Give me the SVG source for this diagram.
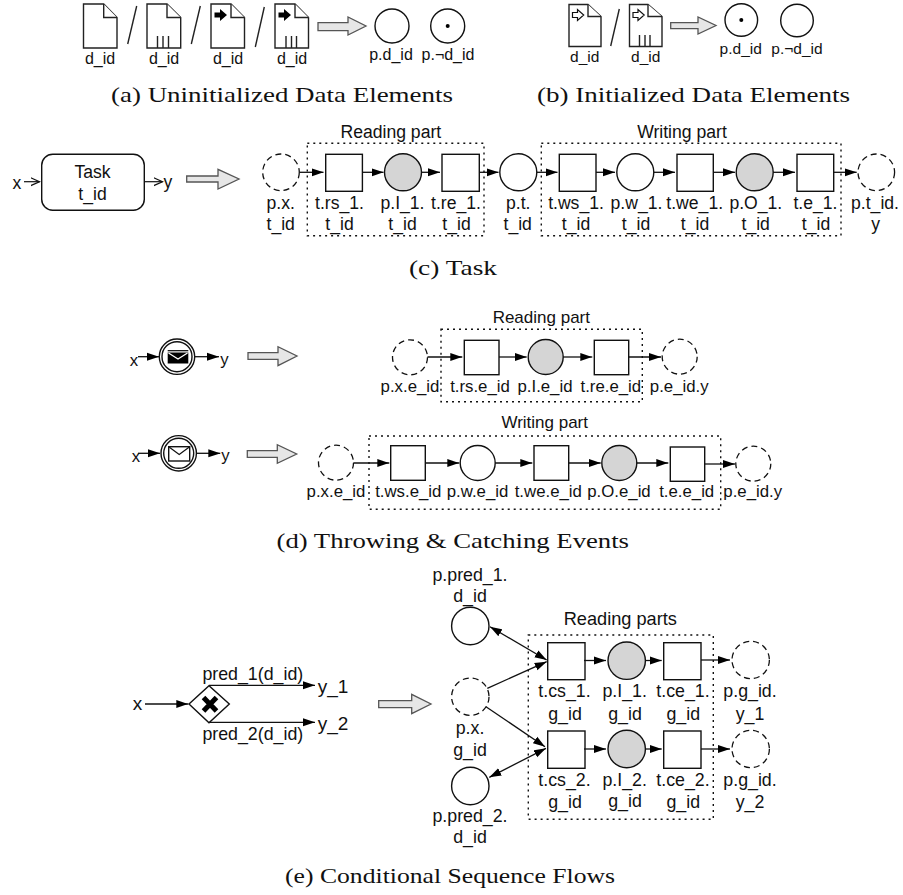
<svg xmlns="http://www.w3.org/2000/svg" width="903" height="895" viewBox="0 0 903 895">
<style>
text{font-family:"Liberation Sans",Arial,sans-serif;fill:#111;text-anchor:middle}
.a{font-size:16px}.b{font-size:15.5px}.c{font-size:17.6px}.d{font-size:16.8px}.e{font-size:17.8px}.big{font-size:19px}
.cap{font-family:"Liberation Serif","Times New Roman",serif;font-size:22px;text-anchor:start}
.doc{fill:#fff;stroke:#222;stroke-width:1.4}
.bar{stroke:#222;stroke-width:1.4;fill:none}
.block{fill:#e6e6e6;stroke:#555;stroke-width:1.3}
.ring{fill:#fff;stroke:#111;stroke-width:1.4}
.gray{fill:#d5d5d5;stroke:#111;stroke-width:1.4}
.dash{fill:#fff;stroke:#111;stroke-width:1.3;stroke-dasharray:6 4}
.sq{fill:#fff;stroke:#111;stroke-width:1.4}
.frame{fill:none;stroke:#111;stroke-width:1.4;stroke-dasharray:2 4}
.f{fill:none;stroke:#111;stroke-width:1.3;marker-end:url(#h)}
.o{fill:none;stroke:#111;stroke-width:1.2;marker-end:url(#op)}
.both{fill:none;stroke:#111;stroke-width:1.3;marker-end:url(#h);marker-start:url(#h)}
</style>
<defs>
<marker id="h" markerUnits="userSpaceOnUse" markerWidth="12" markerHeight="9" refX="12" refY="4.5" orient="auto-start-reverse"><path d="M0 0.5L12 4.5L0 8.5Z" fill="#000"/></marker>
<marker id="op" markerUnits="userSpaceOnUse" markerWidth="10" markerHeight="10" refX="9" refY="5" orient="auto"><path d="M0 1L9 5L0 9" fill="none" stroke="#111" stroke-width="1.2"/></marker>
</defs>

<g id="data-uninit">
<g id="doc1"><path class="doc" d="M83.5 4H103.7L117 17.5V48H83.5Z"/><path class="doc" d="M103.7 4V17.5H117"/><text class="a" x="100" y="64">d_id</text></g>
<path class="bar" d="M127.7 44L136.7 6"/>
<g id="doc2"><path class="doc" d="M147 4H167L180.7 17.5V48H147Z"/><path class="doc" d="M167 4V17.5H180.7"/><path class="bar" d="M157.5 36V48M163 36V48M168.5 36V48"/><text class="a" x="164" y="64">d_id</text></g>
<path class="bar" d="M191.3 44L200.3 6"/>
<g id="doc3"><path class="doc" d="M211 4H231L244.5 17.5V48H211Z"/><path class="doc" d="M231 4V17.5H244.5"/><path d="M214.5 12.5H220V9L227 15L220 21V17.5H214.5Z" fill="#000"/><text class="a" x="228" y="64">d_id</text></g>
<path class="bar" d="M255.3 47L264.3 7"/>
<g id="doc4"><path class="doc" d="M275 4H295L308.5 17.5V48H275Z"/><path class="doc" d="M295 4V17.5H308.5"/><path d="M278.5 12.5H284V9L291 15L284 21V17.5H278.5Z" fill="#000"/><path class="bar" d="M286 36V48M291.5 36V48M296.5 36V48"/><text class="a" x="292" y="64">d_id</text></g>
<path class="block" d="M318 22.7H348V17L366 26L348 35V30.7H318Z"/>
<g id="p-d-a"><circle class="ring" cx="392" cy="26" r="17"/><text class="a" x="391" y="60">p.d_id</text></g>
<g id="p-nd-a"><circle class="ring" cx="447.7" cy="26" r="17"/><circle cx="447.7" cy="26" r="2" fill="#000"/><text class="a" x="448" y="60">p.¬d_id</text></g>
<text class="cap" x="111" y="102" textLength="342" lengthAdjust="spacingAndGlyphs">(a) Uninitialized Data Elements</text>
</g>

<g id="data-init">
<g id="doc5"><path class="doc" d="M569 4.5H588L601 16.5V46.5H569Z"/><path class="doc" d="M588 4.5V16.5H601"/><path d="M572.5 12.5H577.5V9.5L583.7 15L577.5 20.5V17.5H572.5Z" fill="#fff" stroke="#111" stroke-width="1.2"/><text class="b" x="584.7" y="62">d_id</text></g>
<path class="bar" d="M610.7 46L619.3 9"/>
<g id="doc6"><path class="doc" d="M629.5 4.5H648L662 16.5V46.5H629.5Z"/><path class="doc" d="M648 4.5V16.5H662"/><path d="M633 12.5H638V9.5L644.2 15L638 20.5V17.5H633Z" fill="#fff" stroke="#111" stroke-width="1.2"/><path class="bar" d="M639.5 35V46.5M645 35V46.5M650 35V46.5"/><text class="b" x="645.7" y="62">d_id</text></g>
<path class="block" d="M670.7 22.7H698V17L716 25.5L698 34V28.7H670.7Z"/>
<g id="p-d-b"><circle class="ring" cx="741.3" cy="20" r="16.3"/><circle cx="741.3" cy="20" r="2" fill="#000"/><text class="b" x="740.7" y="53.5">p.d_id</text></g>
<g id="p-nd-b"><circle class="ring" cx="797" cy="20.5" r="16.3"/><text class="b" x="797" y="53.5">p.¬d_id</text></g>
<text class="cap" x="537" y="102" textLength="313" lengthAdjust="spacingAndGlyphs">(b) Initialized Data Elements</text>
</g>

<g id="task-section">
<g id="task"><rect class="sq" x="41.7" y="154.3" width="102.6" height="56" rx="11"/><text class="c" x="92.5" y="178">Task</text><text class="c" x="92.5" y="200">t_id</text></g>
<text class="c" x="17" y="189">x</text><text class="c" x="168" y="188">y</text>
<path class="block" d="M186.7 176H218V169.3L239 179L218 189V182H186.7Z"/>
<rect class="frame" x="307.3" y="143.3" width="176.7" height="92.4"/>
<text class="c" x="390.8" y="138">Reading part</text>
<rect class="frame" x="541.3" y="143.3" width="299.7" height="92.4"/>
<text class="c" x="682" y="138">Writing part</text>
<g id="c-px"><circle class="dash" cx="281" cy="172.3" r="18.3"/><text class="c" x="280.7" y="208.5">p.x.</text><text class="c" x="280.7" y="230">t_id</text></g>
<g id="c-trs"><rect class="sq" x="325.7" y="154.3" width="36.7" height="37"/><text class="c" x="339.5" y="208.5">t.rs_1.</text><text class="c" x="339.5" y="230">t_id</text></g>
<g id="c-pi"><circle class="gray" cx="403" cy="172.3" r="18.5"/><text class="c" x="402.5" y="208.5">p.I_1.</text><text class="c" x="402.5" y="230">t_id</text></g>
<g id="c-tre"><rect class="sq" x="442" y="154.3" width="37.3" height="37"/><text class="c" x="456" y="208.5">t.re_1.</text><text class="c" x="456.5" y="230">t_id</text></g>
<g id="c-pt"><circle class="ring" cx="518.3" cy="172.3" r="18.5"/><text class="c" x="518.3" y="208.5">p.t.</text><text class="c" x="517.7" y="230">t_id</text></g>
<g id="c-tws"><rect class="sq" x="559.3" y="154.3" width="36.7" height="37"/><text class="c" x="576" y="208.5">t.ws_1.</text><text class="c" x="576" y="230">t_id</text></g>
<g id="c-pw"><circle class="ring" cx="635.3" cy="172.3" r="18.5"/><text class="c" x="636.5" y="208.5">p.w_1.</text><text class="c" x="636" y="230">t_id</text></g>
<g id="c-twe"><rect class="sq" x="677" y="154.3" width="36.3" height="37"/><text class="c" x="694.7" y="208.5">t.we_1.</text><text class="c" x="695" y="230">t_id</text></g>
<g id="c-po"><circle class="gray" cx="754.7" cy="172.3" r="18.5"/><text class="c" x="755.8" y="208.5">p.O_1.</text><text class="c" x="755.7" y="230">t_id</text></g>
<g id="c-te"><rect class="sq" x="797" y="154.3" width="36.7" height="37"/><text class="c" x="815.5" y="208.5">t.e_1.</text><text class="c" x="816" y="230">t_id</text></g>
<g id="c-py"><circle class="dash" cx="876.3" cy="172.3" r="18.3"/><text class="c" x="875" y="208.5">p.t_id.</text><text class="c" x="875.7" y="230">y</text></g>
<text class="cap" x="409" y="275" textLength="88" lengthAdjust="spacingAndGlyphs">(c) Task</text>
</g>

<g id="event-section">
<g id="throw"><circle class="ring" cx="177" cy="356.7" r="17.7"/><circle class="ring" cx="177" cy="356.7" r="15"/><path d="M167.7 350.7H188.3" stroke="#000" stroke-width="1.2"/><rect x="167.7" y="352.5" width="20.6" height="11" fill="#000"/><path d="M168.5 353L178 359L187.5 353" fill="none" stroke="#fff" stroke-width="1.3"/></g>
<text class="d" x="134" y="366">x</text><text class="d" x="224.5" y="365">y</text>
<path class="block" d="M248 352.7H278V346.7L297 356L278 365.7V359.3H248Z"/>
<g id="catch"><circle class="ring" cx="178.7" cy="453.3" r="17.7"/><circle class="ring" cx="178.7" cy="453.3" r="15"/><rect x="168.7" y="446.7" width="21" height="14.3" fill="#fff" stroke="#111" stroke-width="1.4"/><path d="M168.7 446.7L179.2 454.5L189.7 446.7" fill="none" stroke="#111" stroke-width="1.2"/></g>
<text class="d" x="136" y="461.5">x</text><text class="d" x="225.5" y="461">y</text>
<path class="block" d="M247.3 450.7H277.3V444.7L296.7 454L277.3 463.3V457.3H247.3Z"/>

<rect class="frame" x="441" y="329.3" width="201.3" height="72.4"/>
<text class="d" style="font-size:17px" x="541.3" y="323">Reading part</text>
<g id="d-px"><circle class="dash" cx="410" cy="357.3" r="17.5"/><text class="d" x="410" y="391.5">p.x.e_id</text></g>
<g id="d-trs"><rect class="sq" x="464.3" y="340.3" width="34.7" height="34.4"/><text class="d" x="480" y="391.5">t.rs.e_id</text></g>
<g id="d-pi"><circle class="gray" cx="545.7" cy="357" r="17.5"/><text class="d" x="545" y="391.5">p.I.e_id</text></g>
<g id="d-tre"><rect class="sq" x="594.3" y="340.3" width="34.4" height="34.4"/><text class="d" x="610.8" y="391.5">t.re.e_id</text></g>
<g id="d-py"><circle class="dash" cx="679.7" cy="356.7" r="17.5"/><text class="d" x="679.2" y="391.5">p.e_id.y</text></g>

<rect class="frame" x="369" y="436" width="351.7" height="73.3"/>
<text class="d" style="font-size:17px" x="544.7" y="428">Writing part</text>
<g id="d2-px"><circle class="dash" cx="336" cy="462.7" r="17.5"/><text class="d" x="336" y="497">p.x.e_id</text></g>
<g id="d2-tws"><rect class="sq" x="390.7" y="445.7" width="34.6" height="34.6"/><text class="d" x="408.3" y="497">t.ws.e_id</text></g>
<g id="d2-pw"><circle class="ring" cx="477.7" cy="463" r="17.5"/><text class="d" x="477.5" y="497">p.w.e_id</text></g>
<g id="d2-twe"><rect class="sq" x="534" y="445.7" width="34.7" height="34.6"/><text class="d" x="548.3" y="497">t.we.e_id</text></g>
<g id="d2-po"><circle class="gray" cx="619.3" cy="463" r="17.5"/><text class="d" x="619" y="497">p.O.e_id</text></g>
<g id="d2-te"><rect class="sq" x="670.3" y="447" width="34.4" height="34.3"/><text class="d" x="686.7" y="497">t.e.e_id</text></g>
<g id="d2-py"><circle class="dash" cx="753.3" cy="463.7" r="17.5"/><text class="d" x="752.7" y="497">p.e_id.y</text></g>
<text class="cap" x="276.5" y="548" textLength="352.5" lengthAdjust="spacingAndGlyphs">(d) Throwing &amp; Catching Events</text>
</g>

<g id="gateway-section">
<g id="gateway"><path class="ring" d="M189 704L209 685.7L229.3 704L209 722.7Z"/><path d="M203.5 697.5L216.5 711M216.5 697.5L203.5 711" stroke="#000" stroke-width="5" fill="none"/></g>
<text class="big" x="137.5" y="710">x</text>
<text class="e" x="252.8" y="680">pred_1(d_id)</text>
<text class="e" x="252.8" y="740">pred_2(d_id)</text>
<text class="big" x="333" y="693.3">y_1</text>
<text class="big" x="333" y="730">y_2</text>
<path class="block" d="M378.7 700.7H411.7V694.3L431 704L411.7 713.7V707.7H378.7Z"/>
<rect class="frame" x="528.3" y="635" width="185" height="184.3"/>
<text class="e" style="font-size:18.2px" x="620.3" y="625">Reading parts</text>
<g id="e-pred1"><circle class="ring" cx="470.3" cy="626" r="18.7"/><text class="e" x="470" y="580.7">p.pred_1.</text><text class="e" x="470" y="601.7">d_id</text></g>
<g id="e-px"><circle class="dash" cx="470.3" cy="696.7" r="18.7"/><text class="e" x="470" y="734">p.x.</text><text class="e" x="470" y="756">g_id</text></g>
<g id="e-pred2"><circle class="ring" cx="470.3" cy="786" r="18.7"/><text class="e" x="470" y="821.7">p.pred_2.</text><text class="e" x="470" y="842.7">d_id</text></g>
<g id="e-tcs1"><rect class="sq" x="547.7" y="642.7" width="37.3" height="37"/><text class="e" x="564.5" y="697.3">t.cs_1.</text><text class="e" x="565" y="719.5">g_id</text></g>
<g id="e-pi1"><circle class="gray" cx="626.7" cy="660.7" r="18.7"/><text class="e" x="624.7" y="697.3">p.I_1.</text><text class="e" x="625" y="719.5">g_id</text></g>
<g id="e-tce1"><rect class="sq" x="663.7" y="642.7" width="37.3" height="37"/><text class="e" x="683" y="697.3">t.ce_1.</text><text class="e" x="683.3" y="719.5">g_id</text></g>
<g id="e-py1"><circle class="dash" cx="750.7" cy="660" r="18.7"/><text class="e" x="750" y="697.3">p.g_id.</text><text class="e" x="750" y="719.5">y_1</text></g>
<g id="e-tcs2"><rect class="sq" x="547.7" y="731" width="37.3" height="37.3"/><text class="e" x="564.5" y="786.3">t.cs_2.</text><text class="e" x="565" y="808">g_id</text></g>
<g id="e-pi2"><circle class="gray" cx="626.7" cy="749" r="18.7"/><text class="e" x="624.7" y="786.3">p.I_2.</text><text class="e" x="625" y="807">g_id</text></g>
<g id="e-tce2"><rect class="sq" x="663.7" y="731" width="37.3" height="37.3"/><text class="e" x="683" y="786.3">t.ce_2.</text><text class="e" x="683.3" y="808">g_id</text></g>
<g id="e-py2"><circle class="dash" cx="750.7" cy="749" r="18.7"/><text class="e" x="750" y="786.3">p.g_id.</text><text class="e" x="750" y="808">y_2</text></g>
<text class="cap" x="285" y="883" textLength="330" lengthAdjust="spacingAndGlyphs">(e) Conditional Sequence Flows</text>
</g>

<g id="connectors">
<path class="o" d="M24 181.7H39.5"/><path class="o" d="M144.3 181.7H162.5"/>
<path class="f" d="M299.7 172.3H323.5"/><path class="f" d="M362.4 172.3H383.5"/><path class="f" d="M421.5 172.3H440"/><path class="f" d="M479.3 172.3H498.5"/><path class="f" d="M536.8 172.3H557.5"/><path class="f" d="M596 172.3H615"/><path class="f" d="M653.8 172.3H675"/><path class="f" d="M713.3 172.3H735"/><path class="f" d="M773.2 172.3H795"/><path class="f" d="M833.7 172.3H856.7"/>
<path class="f" d="M138 356.7H159"/><path class="f" d="M194.7 356.7H219"/>
<path class="f" d="M138 453.3H160"/><path class="f" d="M196.4 453.3H220.3"/>
<path class="f" d="M427.5 357H462.3"/><path class="f" d="M499 357H526.7"/><path class="f" d="M563.2 357H592.3"/><path class="f" d="M628.7 357H661"/>
<path class="f" d="M353.5 463H389.3"/><path class="f" d="M425.3 463H459.3"/><path class="f" d="M495.2 463H532.3"/><path class="f" d="M568.7 463H600.7"/><path class="f" d="M636.8 463H668.3"/><path class="f" d="M704.7 464H735"/>
<path class="f" d="M145 704H188.3"/>
<path class="f" d="M209 685.3H315"/><path class="f" d="M209 722.3H315"/>
<path class="f" d="M584 660.5H606"/><path class="f" d="M645.4 660.5H661.7"/><path class="f" d="M701 660H730"/>
<path class="f" d="M584 749H606"/><path class="f" d="M645.4 749H661.7"/><path class="f" d="M701 749H730"/>
<path class="both" d="M490 626.7L546.7 660"/><path class="f" d="M487.3 688.3L546.7 661.7"/><path class="f" d="M486 706.7L545 746.7"/><path class="both" d="M489.3 777.3L546 748.3"/>
</g>
</svg>
